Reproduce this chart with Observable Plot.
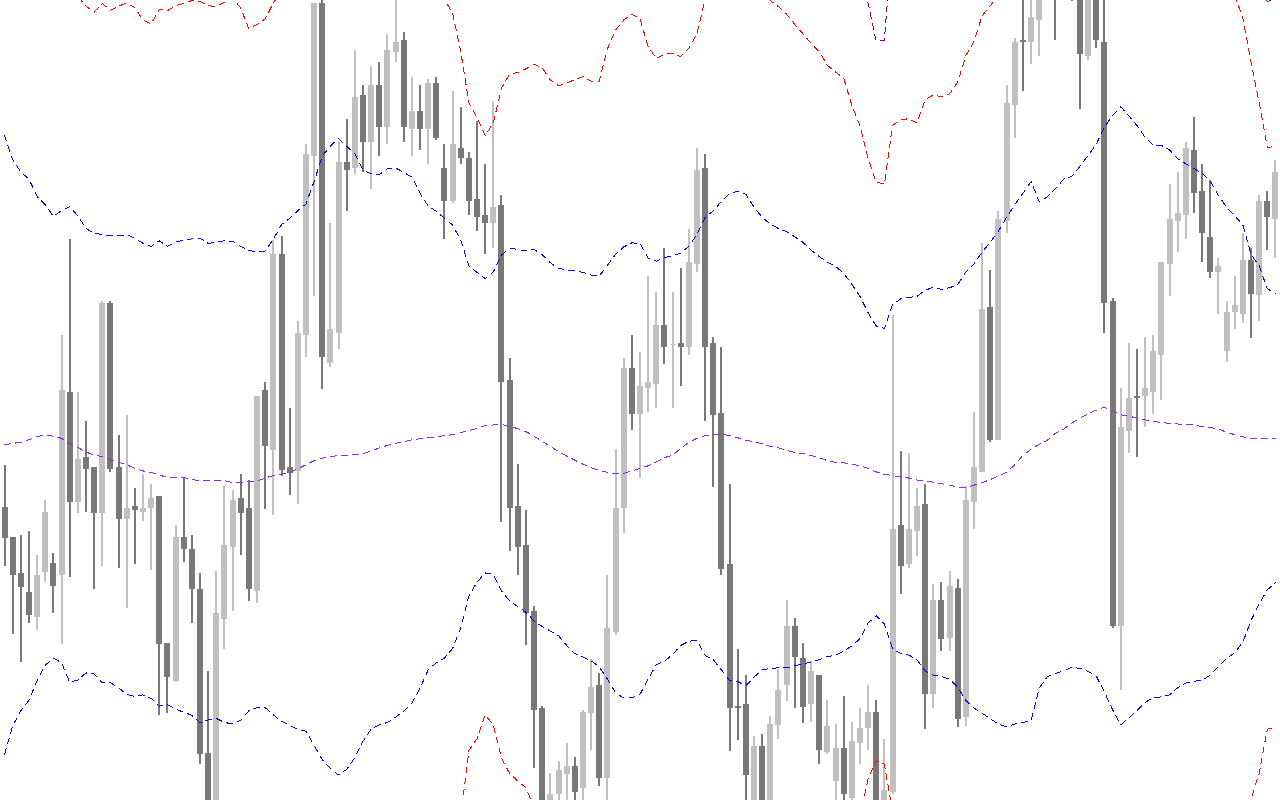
<!DOCTYPE html>
<html>
<head>
<meta charset="utf-8">
<script src="https://cdn.jsdelivr.net/npm/d3@7"></script>
<script src="https://cdn.jsdelivr.net/npm/@observablehq/plot@0.6"></script>
<style>
html, body { margin: 0; padding: 0; background: #ffffff; overflow: hidden; }
#chart svg { display: block; }
</style>
</head>
<body>
<div id="chart"></div>
<script>
// Price levels read off the picture, measured downward from the top of the chart
// (larger level = lower price). One entry per bar, bar index 0..156.
const open = [
993,1053,1123,1160,1210,1122,1103,1127,768,983,
896,915,1006,594,915,1018,992,1004,996,972,
1260,1335,1053,1076,1155,1476,1600,1214,1072,976,
996,1159,764,882,498,915,923,657,306,6,
712,653,318,329,186,278,167,249,102,78,
253,218,253,163,329,394,290,310,390,421,
437,402,745,992,1068,1198,1388,1610,1557,1517,
1502,1545,1398,1343,1525,1239,996,721,811,760,
753,637,676,672,680,517,329,672,809,1106,
1384,1380,1575,1462,1575,1421,1343,1227,1290,1380,
1323,1474,1531,1466,1564,1457,1427,1396,1580,1553,
1029,1106,1040,988,1360,1176,1251,1152,1405,984,
925,602,862,433,206,78,82,39,-10,-50,
-8,-70,-30,110,-15,82,590,1227,845,776,
776,768,696,517,433,421,294,374,465,533,
688,612,616,510,578,394,429
];
const high = [
911,1053,1049,1041,1088,980,1084,657,468,768,
825,915,590,590,853,813,956,929,949,972,
1260,1029,935,1049,1123,1315,1119,953,960,929,
941,776,749,470,462,800,629,282,6,-2,
437,278,233,98,167,129,122,67,-10,63,
151,167,155,151,282,178,210,298,237,321,
198,382,702,910,1000,1188,1384,1515,1492,1457,
1484,1392,1292,1319,1127,880,702,657,690,541,
572,486,572,525,449,290,302,661,680,949,
1272,1323,1443,1439,1404,1311,1176,1211,1260,1296,
1323,1372,1419,1364,1415,1388,1343,1372,1449,617,
884,888,957,949,1145,1141,1119,1135,953,808,
476,529,414,167,74,-20,-10,-20,-80,-70,
-90,-90,-50,-20,-30,-10,584,760,672,684,
661,657,514,361,337,278,229,321,353,506,
590,541,457,486,382,374,314
];
const low = [
1110,1243,1298,1221,1234,1140,1202,1263,1130,1006,
1003,1155,1110,925,1114,1191,1106,1022,1118,1402,
1398,1337,1102,1221,1498,1620,1620,1272,1198,1088,
1178,1182,998,1010,933,970,988,700,580,763,
720,684,413,341,337,370,306,282,122,278,
306,294,321,274,468,398,321,421,453,498,
486,1023,1080,1127,1264,1506,1620,1630,1580,1580,
1580,1580,1470,1541,1580,1245,1045,843,937,808,
800,713,800,757,696,533,825,955,1127,1472,
1451,1580,1600,1590,1590,1449,1374,1388,1417,1415,
1498,1478,1580,1580,1580,1498,1470,1590,1590,1557,
1164,1113,1090,1429,1388,1276,1276,1425,1423,1037,
925,866,862,457,270,178,125,110,-8,78,
-4,2,213,118,94,653,1231,1353,888,896,
837,812,784,580,494,468,417,514,545,616,
710,645,633,663,629,490,506
];
const close = [
1055,1127,1151,1206,1127,1003,1148,764,983,900,
920,1006,594,920,1018,996,1000,996,976,1263,
1327,1053,1076,1155,1478,1590,1202,1068,980,1006,
1155,776,874,498,921,927,653,302,6,700,
645,318,333,190,278,167,249,98,82,249,
218,253,163,270,394,282,310,394,425,437,
406,749,996,1072,1202,1392,1600,1557,1510,1502,
1553,1396,1347,1525,1231,996,721,811,757,749,
637,680,674,680,514,333,680,813,1115,1388,
1388,1519,1462,1575,1419,1353,1227,1288,1386,1315,
1470,1423,1466,1557,1453,1427,1396,1580,1549,1037,
1110,1037,992,1360,1176,1252,1149,1410,980,915,
606,862,429,202,82,82,33,-5,-60,-5,
-70,-30,105,-10,78,594,1227,837,780,780,
760,688,514,429,417,290,378,457,533,521,
612,598,510,576,394,425,337
];

// Middle band (purple) and the 1, 2 and 3 deviation bands, one value per bar.
// null = the band is outside the visible window there.
const midBand = [
871,868,866,861,855,851,854,858,869,876,
885,891,894,900,905,910,917,922,925,930,
935,935,935,939,941,941,941,941,945,945,
943,942,936,931,929,925,918,910,902,897,
894,892,891,890,888,883,877,872,868,865,
861,859,857,855,853,851,847,843,839,833,
832,831,835,839,845,854,864,874,884,893,
901,909,916,921,925,927,927,922,917,912,
904,896,891,878,866,858,853,851,850,853,
857,862,865,869,874,877,882,886,888,892,
896,902,905,906,909,912,917,924,929,931,
934,936,940,942,944,947,950,954,954,950,
945,939,932,925,910,891,880,870,862,848,
840,828,819,810,803,797,804,812,815,818,
822,825,827,829,830,831,832,835,837,840,
846,851,855,858,858,858,858
];
const upper1 = [
264,312,336,350,384,400,423,412,404,422,
447,456,459,461,461,459,466,476,482,471,
482,473,470,467,466,476,474,471,472,482,
490,493,491,468,439,427,412,399,355,305,
285,271,286,300,332,340,341,330,328,337,
346,378,403,413,427,440,470,520,533,545,
532,499,485,488,491,488,498,514,525,528,
530,533,538,540,519,498,483,475,476,505,
511,504,500,495,482,458,425,412,394,378,
374,380,405,425,438,447,453,463,474,489,
502,513,521,535,556,580,612,638,643,596,
585,582,580,568,562,566,563,557,532,516,
493,474,452,425,400,378,355,394,385,369,
350,345,325,304,282,248,226,208,226,245,
268,284,284,293,310,320,329,339,354,382,
405,422,440,498,520,565,574
];
const lower1 = [
1478,1422,1392,1372,1333,1303,1289,1298,1336,1332,
1318,1320,1337,1337,1347,1360,1364,1361,1368,1383,
1380,1389,1395,1401,1416,1410,1407,1415,1418,1411,
1392,1386,1386,1400,1413,1420,1429,1432,1460,1488,
1505,1518,1507,1484,1452,1428,1420,1415,1405,1393,
1377,1348,1312,1298,1289,1270,1230,1167,1140,1122,
1125,1157,1177,1188,1199,1216,1227,1236,1245,1264,
1280,1287,1294,1306,1330,1357,1367,1367,1360,1330,
1302,1295,1282,1264,1256,1254,1284,1292,1312,1333,
1335,1343,1326,1312,1309,1308,1308,1304,1300,1297,
1292,1286,1283,1275,1265,1251,1220,1206,1222,1270,
1280,1283,1292,1314,1322,1325,1330,1346,1372,1387,
1397,1408,1418,1424,1418,1415,1412,1348,1325,1319,
1314,1307,1309,1315,1324,1355,1390,1420,1406,1392,
1376,1366,1365,1361,1347,1338,1334,1333,1322,1305,
1290,1278,1258,1215,1183,1155,1141
];
const _ = null;
const upper2 = [
_,_,_,_,_,_,_,_,-20,-8,
11,23,6,19,11,5,14,38,46,17,
20,10,6,0,2,10,12,3,-4,15,
56,47,36,5,-20,_,_,_,_,_,
_,_,_,_,_,_,_,_,_,_,
_,_,_,-30,-2,25,100,200,230,265,
240,172,144,141,134,125,132,156,167,162,
155,149,158,158,95,58,38,27,36,90,
114,105,103,110,93,65,-3,-40,_,_,
_,_,_,-20,0,12,27,47,65,84,
100,127,140,152,205,245,310,356,360,245,
233,232,240,195,185,189,183,160,108,80,
30,10,-10,_,_,_,_,_,_,_,
_,_,_,_,_,_,_,_,_,_,
_,_,_,_,_,_,_,_,_,_,
_,-10,35,120,200,288,286
];
const lower2 = [
_,_,_,_,_,_,_,_,_,_,
_,_,_,_,_,_,_,_,_,_,
_,_,_,_,_,_,_,_,_,_,
_,_,_,_,_,_,_,_,_,_,
_,_,_,_,_,_,_,_,_,_,
_,_,_,_,_,_,1600,1470,1447,1400,
1420,1485,1515,1530,1543,1582,_,_,_,_,
_,_,_,_,_,_,_,_,_,_,
_,_,_,_,_,_,_,_,_,_,
_,_,_,_,_,_,_,_,_,_,
_,_,_,_,_,1600,1525,1490,1497,1590,
_,_,_,_,_,_,_,_,_,_,
_,_,_,_,_,_,_,_,_,_,
_,_,_,_,_,_,_,_,_,_,
_,_,_,_,_,_,_,_,_,_,
_,_,1620,1565,1515,1428,1425
];
const upper3 = [
_,_,_,_,_,_,_,_,_,_,
_,_,_,_,_,_,_,_,_,_,
_,_,_,_,_,_,_,_,_,_,
_,_,_,_,_,_,_,_,_,_,
_,_,_,_,_,_,_,_,_,_,
_,_,_,_,_,_,_,_,_,_,
_,_,_,_,_,_,_,_,_,_,
_,_,_,_,_,_,_,_,_,_,
_,_,_,_,_,_,_,_,_,_,
_,_,_,_,_,_,_,_,_,_,
_,_,_,_,_,-60,5,80,78,-125,
_,_,_,_,_,_,_,_,_,_,
_,_,_,_,_,_,_,_,_,_,
_,_,_,_,_,_,_,_,_,_,
_,_,_,_,_,_,_,_,_,_,
_,_,_,_,-40,3,-5
];

const bars = open.map((o, i) => ({i, open: o, high: high[i], low: low[i], close: close[i]}));
const barColor = d => d.close < d.open ? "#c0c0c0" : "#787878";

const band = (values, color) => Plot.lineY(values, {
  x: (d, i) => i,
  y: d => d,
  stroke: color,
  strokeWidth: 1,
  strokeDasharray: "6,5",
  shapeRendering: "crispEdges",
  clip: true
});

const chart = Plot.plot({
  width: 1280,
  height: 800,
  margin: 0,
  style: {background: "#ffffff"},
  x: {domain: [-0.491, 156.62], axis: null},
  y: {domain: [0, 1568], reverse: true, axis: null},
  marks: [
    Plot.ruleX(bars, {x: "i", y1: "low", y2: "high", stroke: barColor, strokeWidth: 2, shapeRendering: "crispEdges", clip: true}),
    Plot.ruleX(bars, {x: "i", y1: "open", y2: "close", stroke: barColor, strokeWidth: 6, shapeRendering: "crispEdges", clip: true}),
    band(upper3, "#800080"),
    band(upper2, "#ff0000"),
    band(lower2, "#ff0000"),
    band(upper1, "#0000ff"),
    band(lower1, "#0000ff"),
    band(midBand, "#8a2be2")
  ]
});
document.getElementById("chart").appendChild(chart);
</script>
</body>
</html>
